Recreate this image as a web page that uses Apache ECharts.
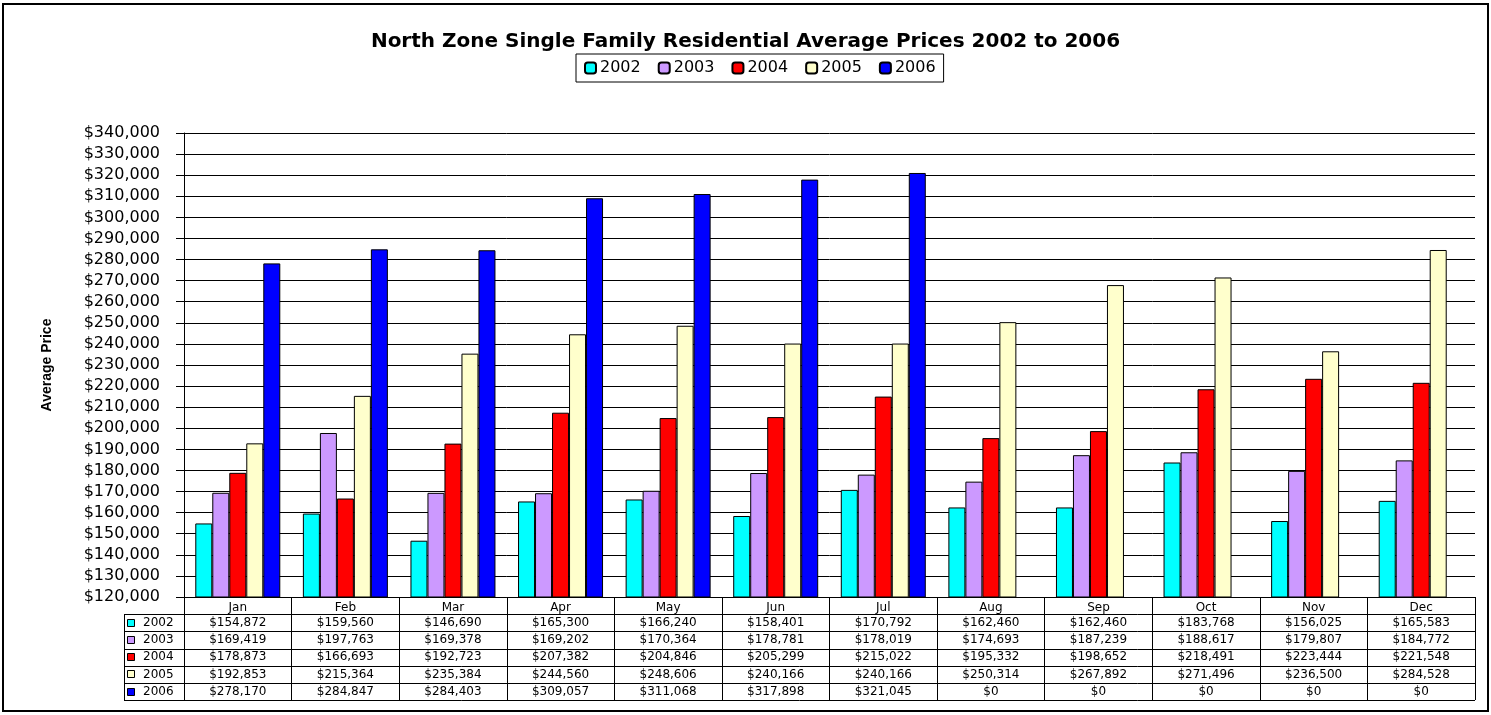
<!DOCTYPE html>
<html>
<head>
<meta charset="utf-8">
<script src="https://cdn.jsdelivr.net/npm/echarts@6/dist/echarts.min.js"></script>
<style>
  html, body { margin: 0; padding: 0; background: #fff; }
  #priceChart { width: 1491px; height: 715px; }
</style>
</head>
<body>
<div id="priceChart"></div>
<script>
const months = ['Jan', 'Feb', 'Mar', 'Apr', 'May', 'Jun', 'Jul', 'Aug', 'Sep', 'Oct', 'Nov', 'Dec']
const years = ['2002', '2003', '2004', '2005', '2006']
const prices2002 = [154872, 159560, 146690, 165300, 166240, 158401, 170792, 162460, 162460, 183768, 156025, 165583]
const prices2003 = [169419, 197763, 169378, 169202, 170364, 178781, 178019, 174693, 187239, 188617, 179807, 184772]
const prices2004 = [178873, 166693, 192723, 207382, 204846, 205299, 215022, 195332, 198652, 218491, 223444, 221548]
const prices2005 = [192853, 215364, 235384, 244560, 248606, 240166, 240166, 250314, 267892, 271496, 236500, 284528]
const prices2006 = [278170, 284847, 284403, 309057, 311068, 317898, 321045, 0, 0, 0, 0, 0]
const yTicks = { min: 120000, max: 340000, step: 10000 }

const allPrices = [prices2002, prices2003, prices2004, prices2005, prices2006]
const yearColors = ['#00FFFF', '#CC99FF', '#FF0000', '#FFFFCC', '#0000FF']
const font = 'DejaVu Sans'

const money = (v) => '$' + v.toLocaleString('en-US')

let chartDom = echarts.init(document.getElementById('priceChart'))

const option = {
  animation: false,
  backgroundColor: '#fff',
  title: {
    text: 'North Zone Single Family Residential Average Prices 2002 to 2006',
    left: 'center',
    top: 27,
    textStyle: { fontFamily: font, fontSize: 20, fontWeight: 'bold', color: '#000' },
  },
  legend: {
    left: 576,
    top: 54,
    padding: [6, 8],
    itemGap: 17,
    itemWidth: 11,
    itemHeight: 11,
    borderColor: '#000',
    borderWidth: 1,
    textStyle: { fontFamily: font, fontSize: 16, color: '#000', padding: [0, 0, 0, -1] },
    data: years,
  },
  grid: {
    left: 184,
    right: 16,
    top: 133,
    bottom: 118,
  },
  xAxis: {
    type: 'category',
    data: months,
    axisLine: { lineStyle: { color: '#000', width: 1 } },
    axisTick: { show: true, interval: 0, length: 103, lineStyle: { color: '#000' } },
    axisLabel: { margin: 5, fontFamily: font, fontSize: 12, color: '#000' },
    splitLine: { show: false },
  },
  yAxis: {
    type: 'value',
    min: yTicks.min,
    max: yTicks.max,
    interval: yTicks.step,
    name: 'Average Price',
    nameLocation: 'middle',
    nameGap: 130,
    nameTextStyle: { fontFamily: 'Liberation Sans', fontSize: 14, fontWeight: 'bold', color: '#000' },
    axisLine: { show: true, lineStyle: { color: '#000' } },
    axisTick: { show: true, length: 8, lineStyle: { color: '#000' } },
    axisLabel: { margin: 24, fontFamily: font, fontSize: 16, color: '#000', formatter: money },
    splitLine: { show: true, lineStyle: { color: '#000', width: 1 } },
  },
  series: years.map((y, i) => ({
    name: y,
    type: 'bar',
    data: allPrices[i],
    clip: true,
    barGap: '0%',
    barCategoryGap: '21%',
    itemStyle: { color: yearColors[i], borderColor: '#000', borderWidth: 1 },
  })),
}

chartDom.setOption(option)

// data table under the plot, columns lined up with the category axis
function drawTable() {
  const base = chartDom.convertToPixel({ yAxisIndex: 0 }, yTicks.min)
  const right = chartDom.convertToPixel({ xAxisIndex: 0 }, months.length - 1) + 53.8
  const rowH = 17.2
  const keyLeft = 124
  const els = []
  for (let r = 1; r <= years.length + 1; r++) {
    const y = Math.round(base + r * rowH) + 0.5
    els.push({
      type: 'line',
      shape: { x1: keyLeft, y1: y, x2: right, y2: y },
      style: { stroke: '#000', lineWidth: 1 },
    })
  }
  els.push({
    type: 'line',
    shape: { x1: keyLeft + 0.5, y1: Math.round(base + rowH) + 0.5, x2: keyLeft + 0.5, y2: Math.round(base + (years.length + 1) * rowH) + 0.5 },
    style: { stroke: '#000', lineWidth: 1 },
  })
  years.forEach((yr, i) => {
    const cy = base + (i + 1.5) * rowH
    els.push({
      type: 'rect',
      shape: { x: keyLeft + 3.5, y: Math.round(cy) - 3.5, width: 7, height: 7 },
      style: { fill: yearColors[i], stroke: '#000', lineWidth: 1 },
    })
    els.push({
      type: 'text',
      style: { text: yr, x: keyLeft + 19, y: cy, fontFamily: font, fontSize: 12, fill: '#000', verticalAlign: 'middle', align: 'left' },
    })
    allPrices[i].forEach((v, m) => {
      els.push({
        type: 'text',
        style: {
          text: money(v),
          x: chartDom.convertToPixel({ xAxisIndex: 0 }, m),
          y: cy,
          fontFamily: font,
          fontSize: 12,
          fill: '#000',
          align: 'center',
          verticalAlign: 'middle',
        },
      })
    })
  })
  // outer chart frame
  els.push({
    type: 'rect',
    shape: { x: 3, y: 4, width: 1485, height: 707 },
    style: { fill: 'none', stroke: '#000', lineWidth: 2 },
    silent: true,
  })
  chartDom.setOption({ graphic: els })
}

drawTable()
</script>
</body>
</html>
